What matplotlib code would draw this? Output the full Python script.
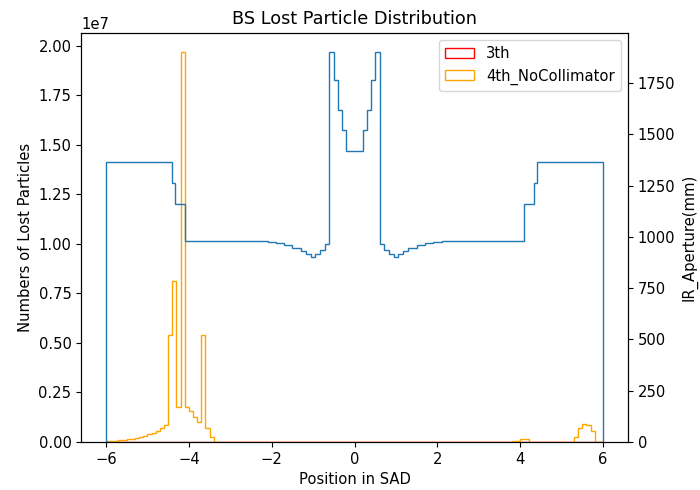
import numpy as np
import matplotlib
matplotlib.use("Agg")
import matplotlib.pyplot as plt

plt.rcParams["font.size"] = 10.6

# Histogram binning: 0.1 wide bins over the SAD position range
bin_edges = np.round(np.arange(-6.0, 6.0001, 0.1), 2)
bin_centers = 0.5 * (bin_edges[:-1] + bin_edges[1:])

# Lost particles per bin, 3rd configuration (no losses recorded)
lost_3th = [0.0] * 120

# Lost particles per bin, 4th configuration without collimator
lost_4th_nocoll = (
    [4e4, 6e4, 7e4, 9e4, 1.05e5, 1.3e5, 1.6e5, 1.95e5, 2.45e5, 3.1e5,
     3.8e5, 4.6e5, 5.6e5, 6.9e5, 8.8e5,
     5.4e6, 8.15e6, 1.78e6, 1.968e7, 1.78e6, 1.57e6, 1.28e6, 0.99e6,
     5.4e6, 6.9e5, 2.4e5]
    + [0.0] * 68
    + [1.5e4, 1.5e4, 1.5e4, 1.5e4, 5e4, 7e4, 1.3e5, 1.3e5]
    + [0.0] * 10
    + [2e4, 2.7e5, 6.9e5, 9.3e5, 8.6e5, 5.6e5, 2e4, 0.0]
)

# Beam-stay-clear aperture along the interaction region
aperture_edges = [-6.0, -4.4, -4.33, -4.1, -2.1, -1.9, -1.7, -1.5, -1.3,
                  -1.17, -1.05, -0.95, -0.83, -0.72, -0.62, -0.5, -0.4,
                  -0.3, -0.21, 0.21, 0.3, 0.4, 0.5, 0.61, 0.72, 0.83, 0.95,
                  1.05, 1.17, 1.3, 1.5, 1.7, 1.9, 2.1, 4.1, 4.33, 4.4, 6.0]
aperture_mm = [1363, 1262, 1162, 981, 977, 969, 959, 947, 932, 917, 904,
               917, 936, 964, 1900, 1767, 1617, 1523, 1420, 1523, 1617,
               1767, 1900, 967, 936, 917, 904, 917, 932, 947, 959, 969,
               977, 981, 1162, 1262, 1363]

fig, ax = plt.subplots(figsize=(7.0, 4.9), dpi=100)
fig.subplots_adjust(left=0.116, right=0.897, bottom=0.098, top=0.933)

ax.hist(bin_centers, bins=bin_edges, weights=lost_3th,
        histtype="step", color="red", label="3th")
ax.hist(bin_centers, bins=bin_edges, weights=lost_4th_nocoll,
        histtype="step", color="orange", label="4th_NoCollimator")
ax.set_xlabel("Position in SAD")
ax.set_ylabel("Numbers of Lost Particles")
ax.set_title("BS Lost Particle Distribution")
ax.legend(loc="upper right")

ax2 = ax.twinx()
ax2.stairs(aperture_mm, aperture_edges, baseline=0, color="C0")
ax2.set_ylabel("IR_Aperture(mm)")

fig.savefig("out.png", dpi=100)
